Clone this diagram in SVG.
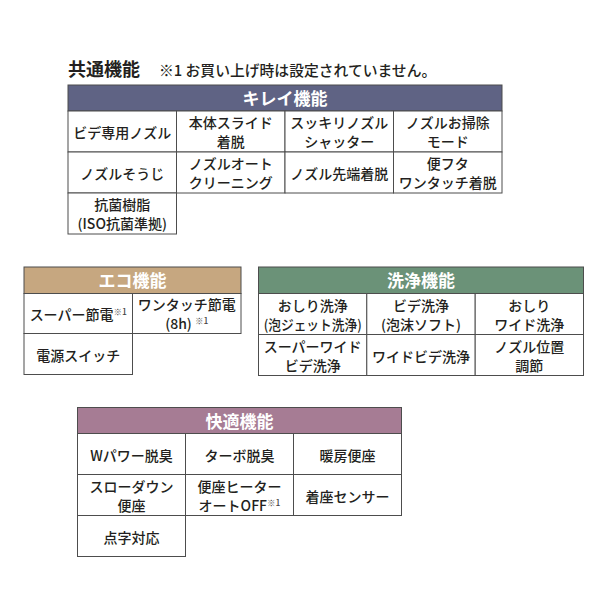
<svg xmlns="http://www.w3.org/2000/svg" width="600" height="600" viewBox="0 0 600 600">
<style>
text{font-family:"Noto Sans CJK JP","Noto Sans",sans-serif;fill:#231f20}
.title{font-size:18px;font-weight:bold}
.note{font-size:14.8px;font-weight:500}
.hd{font-size:17px;font-weight:bold;fill:#ffffff;text-anchor:middle}
.c{font-size:14px;font-weight:500;text-anchor:middle}
.sup{font-size:8.5px;fill:#444}
.cell{fill:#ffffff;stroke:#4d4d4d;stroke-width:1}
.hbox{stroke:#4d4d4d;stroke-width:1}
</style>
<rect width="600" height="600" fill="#ffffff"/>
<g id="title">
<text class="title" x="68" y="76">共通機能</text>
<text class="note" x="159" y="76">※1 お買い上げ時は設定されていません。</text>
</g>
<g id="kirei">
<rect class="hbox" x="68" y="85" width="434" height="26" fill="#5f6384"/>
<text class="hd" x="285" y="105">キレイ機能</text>
<rect class="cell" x="68" y="111" width="108.5" height="41"/>
<rect class="cell" x="176.5" y="111" width="108.5" height="41"/>
<rect class="cell" x="285" y="111" width="108.5" height="41"/>
<rect class="cell" x="393.5" y="111" width="108.5" height="41"/>
<rect class="cell" x="68" y="152" width="108.5" height="41"/>
<rect class="cell" x="176.5" y="152" width="108.5" height="41"/>
<rect class="cell" x="285" y="152" width="108.5" height="41"/>
<rect class="cell" x="393.5" y="152" width="108.5" height="41"/>
<rect class="cell" x="68" y="193" width="108.5" height="41"/>
<text class="c" x="122.25" y="138">ビデ専用ノズル</text>
<text class="c" x="230.75" y="128">本体スライド</text>
<text class="c" x="230.75" y="147">着脱</text>
<text class="c" x="339.25" y="128">スッキリノズル</text>
<text class="c" x="339.25" y="147">シャッター</text>
<text class="c" x="447.75" y="128">ノズルお掃除</text>
<text class="c" x="447.75" y="147">モード</text>
<text class="c" x="122.25" y="179">ノズルそうじ</text>
<text class="c" x="230.75" y="169">ノズルオート</text>
<text class="c" x="230.75" y="188">クリーニング</text>
<text class="c" x="339.25" y="179">ノズル先端着脱</text>
<text class="c" x="447.75" y="169">便フタ</text>
<text class="c" x="447.75" y="188">ワンタッチ着脱</text>
<text class="c" x="122.25" y="210">抗菌樹脂</text>
<text class="c" x="122.25" y="229">(ISO抗菌準拠)</text>
</g>
<g id="eco">
<rect class="hbox" x="24" y="267" width="217" height="26.5" fill="#c6a780"/>
<text class="hd" x="132.5" y="287">エコ機能</text>
<rect class="cell" x="24" y="293.5" width="108.5" height="40"/>
<rect class="cell" x="132.5" y="293.5" width="108.5" height="40"/>
<rect class="cell" x="24" y="333.5" width="108.5" height="41"/>
<text class="c" x="78.25" y="320">スーパー節電<tspan class="sup" dy="-5">※1</tspan></text>
<text class="c" x="186.75" y="310">ワンタッチ節電</text>
<text class="c" x="186.75" y="329">(8h) <tspan class="sup" dy="-5">※1</tspan></text>
<text class="c" x="78.25" y="361">電源スイッチ</text>
</g>
<g id="senjo">
<rect class="hbox" x="258.5" y="267" width="325" height="26.5" fill="#6b9278"/>
<text class="hd" x="421" y="287">洗浄機能</text>
<rect class="cell" x="258.5" y="293.5" width="108.3" height="41"/>
<rect class="cell" x="366.8" y="293.5" width="108.4" height="41"/>
<rect class="cell" x="475.2" y="293.5" width="108.3" height="41"/>
<rect class="cell" x="258.5" y="334.5" width="108.3" height="41"/>
<rect class="cell" x="366.8" y="334.5" width="108.4" height="41"/>
<rect class="cell" x="475.2" y="334.5" width="108.3" height="41"/>
<text class="c" x="312.7" y="310.5">おしり洗浄</text>
<text class="c" x="312.7" y="329.5" textLength="98" lengthAdjust="spacingAndGlyphs">(泡ジェット洗浄)</text>
<text class="c" x="421" y="310.5">ビデ洗浄</text>
<text class="c" x="421" y="329.5">(泡沫ソフト)</text>
<text class="c" x="529.3" y="310.5">おしり</text>
<text class="c" x="529.3" y="329.5">ワイド洗浄</text>
<text class="c" x="312.7" y="351.5">スーパーワイド</text>
<text class="c" x="312.7" y="370.5">ビデ洗浄</text>
<text class="c" x="421" y="361.5">ワイドビデ洗浄</text>
<text class="c" x="529.3" y="351.5">ノズル位置</text>
<text class="c" x="529.3" y="370.5">調節</text>
</g>
<g id="kaiteki">
<rect class="hbox" x="77.5" y="407.5" width="324" height="26" fill="#a67c94"/>
<text class="hd" x="239.5" y="427.5">快適機能</text>
<rect class="cell" x="77.5" y="433.5" width="108" height="41"/>
<rect class="cell" x="185.5" y="433.5" width="108" height="41"/>
<rect class="cell" x="293.5" y="433.5" width="108" height="41"/>
<rect class="cell" x="77.5" y="474.5" width="108" height="41"/>
<rect class="cell" x="185.5" y="474.5" width="108" height="41"/>
<rect class="cell" x="293.5" y="474.5" width="108" height="41"/>
<rect class="cell" x="77.5" y="515.5" width="108" height="41"/>
<text class="c" x="131.5" y="460.5">Wパワー脱臭</text>
<text class="c" x="239.5" y="460.5">ターボ脱臭</text>
<text class="c" x="347.5" y="460.5">暖房便座</text>
<text class="c" x="131.5" y="491.5">スローダウン</text>
<text class="c" x="131.5" y="510.5">便座</text>
<text class="c" x="239.5" y="491.5">便座ヒーター</text>
<text class="c" x="239.5" y="510.5">オートOFF<tspan class="sup" dy="-5">※1</tspan></text>
<text class="c" x="347.5" y="501.5">着座センサー</text>
<text class="c" x="131.5" y="542.5">点字対応</text>
</g>
</svg>
